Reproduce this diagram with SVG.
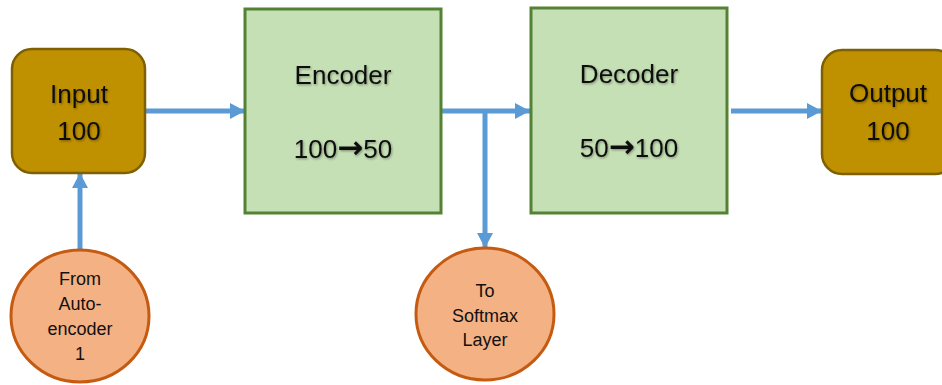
<svg xmlns="http://www.w3.org/2000/svg" width="942" height="385" viewBox="0 0 942 385">
<style>
.io{fill:#BF9000;stroke:#7F6000;stroke-width:2.5}
.blk{fill:#C5E0B4;stroke:#548235;stroke-width:3}
.src{fill:#F4B183;stroke:#C55A11;stroke-width:3}
.big{font-family:"Liberation Sans",Arial,sans-serif;font-size:26px;fill:#111;text-anchor:middle;filter:url(#sh)}
.arr{font-family:"DejaVu Sans",sans-serif;font-weight:bold;font-size:31px}
.sm{font-family:"Liberation Sans",Arial,sans-serif;font-size:18px;fill:#111;text-anchor:middle}
.con{stroke:#5B9BD5;stroke-width:5;fill:none}
</style>
<defs>
<marker id="ah" markerUnits="userSpaceOnUse" markerWidth="16" markerHeight="16" refX="15" refY="8" orient="auto">
<path d="M0,0 L15,8 L0,16 z" fill="#5B9BD5"/>
</marker>
<filter id="sh" x="-10%" y="-20%" width="130%" height="150%">
<feDropShadow dx="1" dy="1.2" stdDeviation="0.8" flood-color="#000" flood-opacity="0.35"/>
</filter>
</defs>
<rect width="942" height="385" fill="#fff"/>
<g id="connectors">
<line class="con" x1="145" y1="111" x2="245" y2="111" marker-end="url(#ah)"/>
<line class="con" x1="441" y1="111" x2="530" y2="111" marker-end="url(#ah)"/>
<line class="con" x1="485" y1="111" x2="485" y2="248" marker-end="url(#ah)"/>
<line class="con" x1="731" y1="111" x2="822" y2="111" marker-end="url(#ah)"/>
<line class="con" x1="80" y1="250" x2="80" y2="173" marker-end="url(#ah)"/>
</g>
<g id="input">
<rect class="io" x="12" y="49" width="133" height="124" rx="20"/>
<text class="big" x="79" y="103">Input</text>
<text class="big" x="79" y="140">100</text>
</g>
<g id="encoder">
<rect class="blk" x="245" y="9" width="196" height="204"/>
<text class="big" x="343" y="84">Encoder</text>
<text class="big" x="343" y="158">100<tspan class="arr">→</tspan>50</text>
</g>
<g id="decoder">
<rect class="blk" x="531" y="8" width="196" height="205"/>
<text class="big" x="629" y="83">Decoder</text>
<text class="big" x="629" y="157">50<tspan class="arr">→</tspan>100</text>
</g>
<g id="output">
<rect class="io" x="822" y="50" width="133" height="124" rx="20"/>
<text class="big" x="888" y="102">Output</text>
<text class="big" x="888" y="140">100</text>
</g>
<g id="from-autoencoder">
<ellipse class="src" cx="80" cy="316" rx="69" ry="66"/>
<text class="sm" x="80" y="285">From</text>
<text class="sm" x="80" y="310">Auto-</text>
<text class="sm" x="80" y="335">encoder</text>
<text class="sm" x="80" y="360">1</text>
</g>
<g id="to-softmax">
<ellipse class="src" cx="485" cy="314" rx="69" ry="66"/>
<text class="sm" x="485" y="297">To</text>
<text class="sm" x="485" y="322">Softmax</text>
<text class="sm" x="485" y="346">Layer</text>
</g>
</svg>
